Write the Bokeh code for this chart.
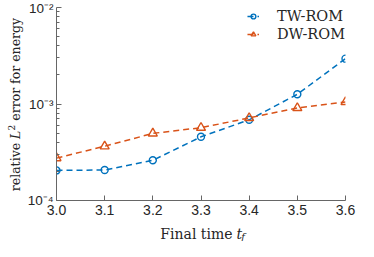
import math
from bokeh.plotting import figure
from bokeh.models import FixedTicker, PrintfTickFormatter, CustomJSTickFormatter, Legend
from bokeh.layouts import row, column
from bokeh.core.properties import value
from bokeh.embed import file_html
from bokeh.resources import INLINE

# ---- data ----
final_time = [3.0, 3.1, 3.2, 3.3, 3.4, 3.5, 3.6]
tw_rom = [2.05e-4, 2.07e-4, 2.61e-4, 4.57e-4, 6.86e-4, 1.26e-3, 2.95e-3]
dw_rom = [2.75e-4, 3.65e-4, 4.96e-4, 5.68e-4, 7.17e-4, 9.1e-4, 1.05e-3]
x_ticks = [3.0, 3.1, 3.2, 3.3, 3.4, 3.5, 3.6]
y_ticks = [1e-4, 1e-3, 1e-2]
y_minor = [m * 10.0 ** e for e in (-4, -3) for m in range(2, 10)]

BLUE = "#0072BD"
ORANGE = "#D95319"
TXT = "#262626"
SERIF = "DejaVu Serif"

p = figure(width=332, height=220, output_backend="svg", toolbar_location=None,
           x_range=(3.0, 3.6), y_range=(1e-4, 1e-2), y_axis_type="log",
           min_border_left=25, min_border_right=11, min_border_top=7,
           min_border_bottom=20)
p.outline_line_color = None
p.xgrid.grid_line_color = None
p.ygrid.grid_line_color = None

for ax in (p.xaxis[0], p.yaxis[0]):
    ax.axis_line_color = "#666666"
    ax.axis_line_width = 1
    ax.major_tick_line_color = "#666666"
    ax.minor_tick_line_color = "#666666"
    ax.major_tick_in = 5
    ax.major_tick_out = 0
    ax.minor_tick_in = 3
    ax.minor_tick_out = 0
    ax.major_label_text_font = "Liberation Sans"
    ax.major_label_text_font_size = "14px"
    ax.major_label_text_color = TXT

p.xaxis.ticker = FixedTicker(ticks=x_ticks)
p.xaxis.formatter = PrintfTickFormatter(format="%.1f")
p.xaxis.minor_tick_line_color = None
p.xaxis.major_label_standoff = 4

p.yaxis.ticker = FixedTicker(ticks=y_ticks, minor_ticks=y_minor)
p.yaxis.major_label_text_font_size = "13.5px"
p.yaxis.formatter = CustomJSTickFormatter(code="""
const e = Math.round(Math.log10(tick));
const sup = {'-':'\\u207b','0':'\\u2070','1':'\\u00b9','2':'\\u00b2','3':'\\u00b3',
             '4':'\\u2074','5':'\\u2075','6':'\\u2076','7':'\\u2077','8':'\\u2078','9':'\\u2079'};
return '10' + String(e).split('').map(c => sup[c]).join('');
""")
p.yaxis.major_label_standoff = 3

# ---- series ----
l1 = p.line(final_time, tw_rom, line_color=BLUE, line_width=1.5, line_dash="6 4")
s1 = p.scatter(final_time, tw_rom, marker="circle", size=7, line_color=BLUE,
               fill_color=None, line_width=1.4)
l2 = p.line(final_time, dw_rom, line_color=ORANGE, line_width=1.5, line_dash="6 4")
s2 = p.scatter(final_time, dw_rom, marker="triangle", size=9, line_color=ORANGE,
               fill_color=None, line_width=1.4)

legend = Legend(items=[("TW-ROM", [l1, s1]), ("DW-ROM", [l2, s2])],
                location="top_right", margin=0, padding=6, spacing=0,
                label_height=18, glyph_height=18, glyph_width=12,
                label_standoff=18, label_text_font=SERIF,
                label_text_font_size="14.5px", label_text_color=TXT,
                background_fill_alpha=0, border_line_color=None)
p.add_layout(legend, "center")


def blank(w, h):
    f = figure(width=w, height=h, output_backend="svg", toolbar_location=None,
               x_range=(0, w), y_range=(0, h), min_border=0,
               x_axis_location=None, y_axis_location=None)
    f.outline_line_color = None
    f.grid.grid_line_color = None
    return f


def piece(f, x, y, text, size="14px", style="normal", align="left", angle=0.0):
    f.text(x=[x], y=[y], text=[text], text_font=value(SERIF), text_font_size=size,
           text_font_style=style, text_color=TXT, text_align=align,
           text_baseline="alphabetic", angle=angle)


# x label: "Final time t_f"
xl = blank(332, 21)
piece(xl, 202.2, 7.5, "Final time", align="right")
piece(xl, 206.7, 7.5, "t", style="italic")
piece(xl, 212.3, 5.5, "f", size="10px", style="italic")

# y label: "relative L^2 error for energy"
A = math.pi / 2
yl = blank(24, 241)
piece(yl, 15, 98.6, "relative", size="12.5px", align="right", angle=A)
piece(yl, 15, 102.6, "L", size="12.5px", style="italic", angle=A)
piece(yl, 10.5, 111.1, "2", size="9px", angle=A)
piece(yl, 15, 120.8, "error for energy", size="12.5px", angle=A)

layout = row(yl, column(p, xl))
open("out.html", "w").write(file_html(layout, INLINE))
